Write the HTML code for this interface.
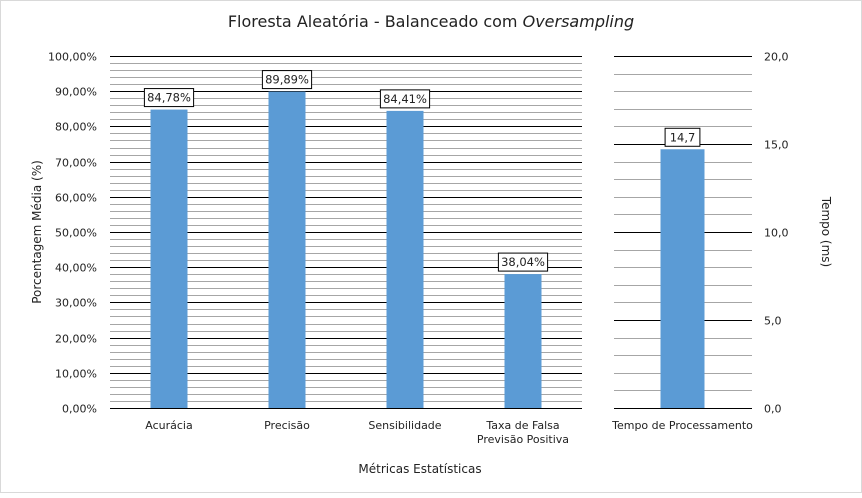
<!DOCTYPE html>
<html><head><meta charset="utf-8"><style>
body{margin:0;background:#fff;font-family:"Liberation Sans",sans-serif}
svg text{font-family:"DejaVu Sans","Liberation Sans",sans-serif;fill:#222}
</style></head><body>
<svg id="c" width="862" height="493" xmlns="http://www.w3.org/2000/svg">
<rect x="0.5" y="0.5" width="861" height="492" fill="#fff" stroke="#d9d9d9"/>
<text x="431" y="27" font-size="16" text-anchor="middle">Floresta Aleatória - Balanceado com <tspan font-style="italic">Oversampling</tspan></text>
<text x="0" y="0" font-size="12" text-anchor="middle" transform="translate(41,232) rotate(-90)">Porcentagem Média (%)</text>
<text x="0" y="0" font-size="12" text-anchor="middle" transform="translate(822,232) rotate(90)">Tempo (ms)</text>
<text x="420" y="473" font-size="12" text-anchor="middle">Métricas Estatísticas</text>
<g id="g"></g>
</svg>
<script>
const categories=["Acurácia","Precisão","Sensibilidade","Taxa de Falsa|Previsão Positiva"];
const values=[84.78,89.89,84.41,38.04];
const labels=["84,78%","89,89%","84,41%","38,04%"];
const timeCategories=["Tempo de Processamento"];
const timeValues=[14.7];
const timeLabels=["14,7"];
const NS="http://www.w3.org/2000/svg",g=document.getElementById("g");
function mk(t,a,txt){const e=document.createElementNS(NS,t);for(const k in a)e.setAttribute(k,a[k]);if(txt!=null)e.textContent=txt;g.appendChild(e);return e;}
const yTop=56,yBot=408;
const yL=v=>yBot-(v/100)*(yBot-yTop);
const yR=v=>yBot-(v/20)*(yBot-yTop);
const L0=110,L1=582,R0=614,R1=752;
for(let v=0;v<=100;v+=2){const y=Math.round(yL(v))+0.5,maj=v%10===0;
 const l=mk("line",{x1:L0,x2:L1,y1:y,y2:y,stroke:maj?"#000":"#a6a6a6","stroke-width":1});
 
 
 if(maj){const t=mk("text",{x:97,y:y+4,"font-size":11,"text-anchor":"end"},v.toFixed(2).replace(".",",")+"%");
 
 }}
for(let v=0;v<=20;v+=1){const y=Math.round(yR(v))+0.5,maj=v%5===0;
 const l=mk("line",{x1:R0,x2:R1,y1:y,y2:y,stroke:maj?"#000":"#a6a6a6","stroke-width":1});
 
 
 if(maj){const t=mk("text",{x:764,y:y+4,"font-size":11},v.toFixed(1).replace(".",","));
 
 }}
function bar(cx,w,y,lab,cat,name){
 const b=mk("rect",{x:cx-w/2,y:y,width:w,height:yBot-y,fill:"#5b9bd5"});
 
 
 const bw=lab.length*7.2+6;
 const r=mk("rect",{x:cx-bw/2,y:y-21,width:bw,height:18,fill:"#fff",stroke:"#000"});
 
 
 const t=mk("text",{x:cx,y:y-8,"font-size":11.5,"text-anchor":"middle"},lab);
 
 
 cat.split("|").forEach((s,i)=>{const c=mk("text",{x:cx,y:429+i*14,"font-size":11,"text-anchor":"middle"},s);
 
 });
}
const step=(L1-L0)/categories.length;
values.forEach((v,i)=>bar(L0+step*(i+0.5),37,yL(v),labels[i],categories[i],'bar-'+i));
timeValues.forEach((v,i)=>bar((R0+R1)/2-0.5,44,yR(v),timeLabels[i],timeCategories[i],'bar-time'));
</script>
</body></html>
